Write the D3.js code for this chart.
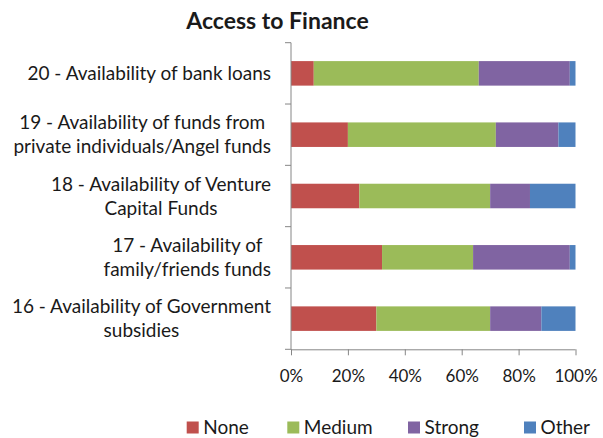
<!DOCTYPE html>
<html>
<head>
<meta charset="utf-8">
<script src="https://d3js.org/d3.v7.min.js"></script>
<style>
  html, body { margin: 0; padding: 0; background: #fff; }
  svg { display: block; }
  text { font-family: Lato, "Open Sans", sans-serif; fill: #1a1a1a; }
</style>
</head>
<body>
<svg id="chart" width="603" height="438"></svg>
<script>
// Survey items, top to bottom; each label is split into its display lines
const categories = [
  ["20 - Availability of bank loans"],
  ["19 - Availability of funds from", "private individuals/Angel funds"],
  ["18 - Availability of Venture", "Capital Funds"],
  ["17 - Availability of", "family/friends funds"],
  ["16 - Availability of Government", "subsidies"]
];
const seriesNames = ["None", "Medium", "Strong", "Other"];
const seriesColors = ["#C0504D", "#9BBB59", "#8064A2", "#4F81BD"];

// Share of responses (%) per category, in the same order as categories
const noneValues   = [8, 20, 24, 32, 30];
const mediumValues = [58, 52, 46, 32, 40];
const strongValues = [32, 22, 14, 34, 18];
const otherValues  = [2, 6, 16, 2, 12];

const tickValues = [0, 0.2, 0.4, 0.6, 0.8, 1.0];

const rows = categories.map((c, i) => ({
  key: c.join(" "),
  lines: c,
  None: noneValues[i],
  Medium: mediumValues[i],
  Strong: strongValues[i],
  Other: otherValues[i]
}));

// Normalise each row to 100%
const stacked = d3.stack().keys(seriesNames).offset(d3.stackOffsetExpand)(rows);

const svg = d3.select("#chart");
const plotLeft = 291, plotRight = 575.5, plotTop = 42.7, plotBottom = 349.3;

const x = d3.scaleLinear().domain([0, 1]).range([plotLeft, plotRight]);
const y = d3.scaleBand()
  .domain(rows.map(d => d.key))
  .range([plotTop, plotBottom])
  .paddingInner(0.6)
  .paddingOuter(0.3);
const color = d3.scaleOrdinal().domain(seriesNames).range(seriesColors);

const labelSize = "19px";

// Title
svg.append("text")
  .attr("x", 277.5).attr("y", 28.5)
  .attr("text-anchor", "middle")
  .style("font-size", "23px").style("font-weight", "bold")
  .text("Access to Finance");

// Bars
svg.append("g").selectAll("g")
  .data(stacked)
  .join("g")
  .attr("fill", d => color(d.key))
  .selectAll("rect")
  .data(d => d)
  .join("rect")
  .attr("x", d => x(d[0]))
  .attr("y", d => y(d.data.key))
  .attr("width", d => x(d[1]) - x(d[0]))
  .attr("height", y.bandwidth());

// Category axis: line and boundary ticks between categories
const axisColor = "#868686";
const catAxis = svg.append("g");
catAxis.append("line")
  .attr("x1", plotLeft).attr("x2", plotLeft)
  .attr("y1", plotTop).attr("y2", plotBottom)
  .attr("stroke", axisColor).attr("stroke-width", 1);
const boundaries = d3.range(rows.length + 1).map(i => plotTop + i * (plotBottom - plotTop) / rows.length);
catAxis.selectAll("line.tick")
  .data(boundaries)
  .join("line")
  .attr("class", "tick")
  .attr("x1", plotLeft - 6).attr("x2", plotLeft)
  .attr("y1", d => d).attr("y2", d => d)
  .attr("stroke", axisColor);

// Category labels: lines centred on each other, block right-aligned to the axis
const labelRight = 271;
const lineGap = 24;
const labels = svg.append("g").style("font-size", labelSize);
rows.forEach(r => {
  const cy = y(r.key) + y.bandwidth() / 2;
  const g = labels.append("g");
  const texts = r.lines.map((ln, i) => g.append("text")
    .attr("text-anchor", "middle")
    .attr("y", cy + (i - (r.lines.length - 1) / 2) * lineGap)
    .attr("dy", "0.35em")
    .text(ln));
  const widths = texts.map(t => t.node().getComputedTextLength());
  const blockW = d3.max(widths);
  texts.forEach(t => t.attr("x", labelRight - blockW / 2));
});

// Value axis
const xAxis = svg.append("g")
  .attr("transform", `translate(0,${plotBottom})`)
  .call(d3.axisBottom(x).tickValues(tickValues).tickFormat(d3.format(".0%")).tickSize(6).tickPadding(15));
xAxis.select(".domain").attr("stroke", axisColor).attr("d", `M${plotLeft},0.5H${plotRight}`);
xAxis.selectAll(".tick line").attr("stroke", axisColor);
xAxis.selectAll(".tick text")
  .style("font-size", "17px")
  .style("font-family", "Lato, 'Open Sans', sans-serif")
  .attr("fill", "#1a1a1a");

// Legend
const legendX = [186.7, 287.3, 408, 524];
const legend = svg.append("g").selectAll("g")
  .data(seriesNames)
  .join("g")
  .attr("transform", (d, i) => `translate(${legendX[i]},421.5)`);
legend.append("rect")
  .attr("width", 12).attr("height", 12)
  .attr("fill", d => color(d));
legend.append("text")
  .attr("x", 16.5).attr("y", 6).attr("dy", "0.35em")
  .style("font-size", labelSize)
  .text(d => d);
</script>
</body>
</html>
